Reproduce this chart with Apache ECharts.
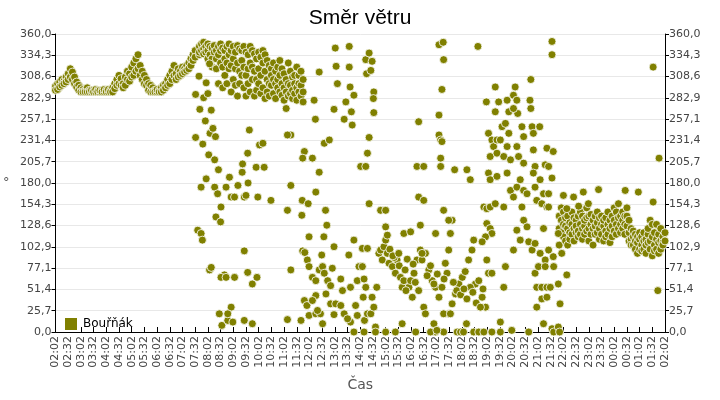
<!DOCTYPE html>
<html>
<head>
<meta charset="utf-8">
<script src="https://cdn.jsdelivr.net/npm/echarts@6/dist/echarts.min.js"></script>
<style>html,body{margin:0;padding:0;background:#fff}#chart{width:720px;height:400px}</style>
</head>
<body>
<div id="chart"></div>
<script>
// minutes after 02:02 -> list of wind directions (deg)
var earlyTimes = [0,5,10,15,20,25,30,35,40,45,50,55,60,65,70,75,80,85,90,95,100,105,110,115,120,125,130,135,140,145,150,155,160,165,170,175,180,185,190,195,200,205,210,215,220,225,230,235,240,245,250,255,260,265,270,275,280,285,290,295,300,305,310,315,320,325,330];
var earlyValues = [[297,292],[300,293],[302,296],[305,298],[303,300],[308,302],[312,305],[318,308],[314,305],[308,300],[302,296],[298,292],[295,290],[293,290],[292,290],[295,290],[292,290],[290,292],[292,290],[290,293],[292,290],[290,292],[292,290],[290,293],[292,290],[290,293],[292,290],[295,290],[300,294],[305,298],[310,300],[306,298],[300,295],[308,298],[315,305],[312,303],[320,308],[325,310],[330,315],[335,318],[322,310],[315,305],[310,300],[305,298],[300,292],[298,290],[295,290],[292,290],[290,293],[292,290],[295,290],[298,292],[300,295],[305,298],[310,300],[315,305],[322,310],[312,305],[318,308],[315,310],[320,312],[318,314],[322,316],[325,318],[330,322],[335,328],[340,332]];

var morningTimes = [340,345,350,355,360,365,370,375,380,385,390,395,400,405,410,415,420,425,430,435,440,445,450,455,460,465,470,475,480,485,490,495,500,505,510,515,520,525,530,535,540,545,550,555,560,565,570,575,580,585];
var morningValues = [[335,345,338],[348,340],[342,336,350],[345,338],[348,340,330],[345,335],[343,330,320],[346,338],[340,330,318],[345,335,300],[348,340,325],[343,320,295],[340,330,310],[345,325,300],[348,335,318],[340,322,290],[345,330,305],[338,318,298],[346,325,285],[342,315,300],[340,328,310],[345,320,295],[338,310,285],[335,318,300],[345,325,290],[340,320,305],[336,315,285],[330,305,292],[338,318,300],[332,310,288],[340,325,295],[335,315,282],[328,305,290],[322,300,285],[318,298,310],[325,305,288],[315,300,282],[320,295,305],[328,310,290],[318,300,286],[312,295,280],[305,290,270],[325,300,285],[315,298,288],[308,292,282],[300,288,310],[320,295,280],[310,290,300],[298,285,315],[305,290,278]];

var nightTimes = [1190,1195,1200,1205,1210,1215,1220,1225,1230,1235,1240,1245,1250,1255,1260,1265,1270,1275,1280,1285,1290,1295,1300,1305,1310,1315,1320,1325,1330,1335,1340,1345,1350,1355,1360,1365,1370,1375,1380,1385,1390,1395,1400,1405,1410,1415,1420,1425,1430,1435,1440];
var nightValues = [[140,125,105],[135,150,120],[145,130,115],[128,138,110],[125,140,105],[120,132,112],[130,118,145],[125,138,110],[135,120,128],[122,140,115],[130,118,145],[140,125,112],[128,135,118],[138,122,150],[125,140,110],[130,118,142],[135,125,105],[128,140,118],[132,120,145],[125,138,112],[130,118,140],[128,135,110],[122,138,115],[130,145,118],[135,125,108],[140,128,115],[135,150,122],[145,130,118],[138,125,155],[140,130,120],[135,145,125],[130,140,118],[128,140,150],[135,120,110],[125,112,105],[115,105,122],[110,100,118],[108,115,95],[112,100,120],[105,98,115],[110,120,100],[105,95,112],[118,108,125],[135,110,100],[130,92,115],[120,105,98],[112,100,130],[108,118,95],[125,110,100],[115,108,105],[110,120]];

// scattered readings [minute, deg]
var scatterA = [[331,287],[339,309],[341,269],[331,235],[350,283],[354,255],[348,227],[344,175],[356,301],[360,288],[364,324],[368,268],[365,240],[372,246],[378,236],[362,214],[376,208],[356,185],[385,196],[376,175],[383,167],[391,151],[379,139],[390,133],[336,123],[344,119],[347,111],[364,75],[368,78],[399,69],[391,66],[403,66],[423,66],[387,22],[393,8],[407,14],[415,30],[419,12],[407,22],[446,14],[465,10],[446,98],[454,72],[465,58],[476,66],[431,177],[441,193],[446,163],[450,165],[455,180],[454,216],[458,244],[442,203],[411,187],[415,163],[423,163],[403,175],[474,199],[478,163],[482,226],[490,228],[493,199],[509,159],[548,147],[556,238],[548,238],[556,177],[556,75],[548,15],[582,141],[583,159],[588,218],[584,210],[597,155],[607,210],[611,280],[614,257],[615,169],[623,193],[623,314],[635,228],[647,232],[658,269],[661,343],[663,321],[666,300],[694,345],[694,320],[696,296],[686,278],[682,257],[699,266],[701,250],[705,286]];
var scatterB = [[584,98],[589,96],[595,87],[599,79],[607,66],[615,62],[623,75],[631,79],[635,71],[629,93],[634,115],[599,115],[641,129],[638,147],[658,103],[654,77],[643,62],[650,56],[674,64],[678,50],[697,54],[693,93],[705,111],[717,79],[713,62],[588,38],[594,32],[599,20],[615,22],[626,22],[631,10],[639,46],[650,34],[658,21],[662,34],[674,32],[682,22],[697,12],[705,0],[713,20],[709,32],[615,44],[619,26],[607,38],[580,14],[690,16]];
var scatterC = [[721,200],[733,200],[737,216],[741,235],[735,312],[733,329],[741,337],[745,316],[748,327],[752,290],[751,282],[752,265],[741,155],[725,101],[737,101],[725,79],[729,64],[733,54],[727,42],[730,14],[737,22],[745,22],[748,42],[752,30],[756,6],[759,54],[729,0],[764,95],[768,99],[772,87],[776,103],[780,111],[784,95],[788,83],[796,79],[803,71],[807,87],[815,66],[819,54],[823,62],[835,54],[839,62],[843,42],[847,71],[854,87],[862,99],[866,87],[874,95],[882,75],[890,62],[898,54],[906,42],[913,54],[921,83],[929,99],[933,119],[937,135],[925,71],[945,46],[953,58],[961,66],[968,73],[976,87],[984,99],[988,111],[992,58],[980,54],[1000,62],[1008,42],[1016,30],[1023,71],[768,147],[780,147],[780,127],[784,117],[823,119],[839,121],[858,254],[854,200],[870,200],[858,163],[870,159],[862,129],[866,95],[870,30],[874,22],[898,119],[906,347],[916,350],[917,329],[913,293],[906,262],[906,238],[910,232],[913,230],[910,210],[910,200],[917,147],[929,135],[929,22],[937,34],[943,196],[972,196],[980,184],[998,345]];
var scatterD = [[851,0],[898,0],[949,0],[957,0],[988,0],[1000,0],[1012,0],[1031,0],[1051,12],[1051,0],[1078,2],[1118,0],[1153,10],[1173,4],[1177,0],[1188,6],[1191,0],[756,0],[780,0],[803,0],[819,10],[886,0],[894,10],[917,0],[964,0],[971,10],[917,22],[933,22],[901,2]];
var scatterE = [[1012,151],[1019,149],[1027,151],[1039,155],[1019,131],[1027,125],[1031,119],[1016,115],[1008,109],[1019,87],[1031,71],[1018,278],[1039,296],[1047,278],[1039,266],[1055,248],[1063,252],[1071,240],[1067,280],[1071,266],[1086,296],[1082,286],[1090,280],[1092,264],[1082,270],[1102,248],[1106,236],[1123,305],[1121,280],[1123,270],[1126,248],[1129,240],[1144,248],[1023,240],[1031,232],[1035,224],[1043,232],[1051,232],[1027,212],[1043,216],[1059,212],[1067,224],[1075,208],[1090,224],[1094,212],[1106,204],[1129,220],[1133,200],[1129,192],[1145,184],[1023,192],[1027,184],[1043,188],[1059,151],[1067,192],[1075,171],[1082,163],[1090,175],[1098,184],[1106,171],[1114,167],[1133,175],[1137,159],[1149,155],[1153,167],[1161,151],[1102,151],[1106,135],[1114,127],[1090,123],[1098,111],[1118,109],[1126,99],[1133,107],[1145,95],[1157,87],[1165,99],[1176,91],[1165,151],[1153,125],[1157,202],[1165,200],[1173,186],[1161,222],[1176,218],[1165,167],[1173,351],[1173,335],[1063,79],[1059,54],[1082,99],[1133,71],[1137,54],[1141,79],[1149,54],[1157,79],[1161,54],[1169,54],[1177,79],[1149,40],[1137,30],[1161,42],[1188,58],[1192,34],[1208,69],[1196,95],[1188,119]];
var scatterF = [[1412,320],[1426,210],[1423,50],[1412,157],[1377,169],[1346,171],[1283,172],[1247,169],[1259,155],[1224,163],[1200,165],[1236,152],[1208,149]];
var scatterG = [[800,90],[812,80],[826,75],[831,88],[850,60],[858,50],[878,68],[886,80],[894,58],[902,70],[918,64],[940,60],[948,50],[957,45],[965,52],[972,40],[986,48],[994,35],[1004,30],[1010,52],[790,100],[797,92],[811,95],[828,50],[845,82]];

function expand(times, values) {
  var out = [];
  times.forEach(function (t, i) {
    values[i].forEach(function (v) { out.push([t, v]); });
  });
  return out;
}

var points = [].concat(
  expand(earlyTimes, earlyValues),
  expand(morningTimes, morningValues),
  expand(nightTimes, nightValues),
  scatterA, scatterB, scatterC, scatterD, scatterE, scatterF, scatterG
);

function timeLabel(m) {
  var tot = (2 * 60 + 2 + m) % 1440;
  var h = Math.floor(tot / 60), mm = tot % 60;
  return (h < 10 ? '0' : '') + h + ':' + (mm < 10 ? '0' : '') + mm;
}
function degLabel(v) { return v.toFixed(1).replace('.', ','); }

var chart = echarts.init(document.getElementById('chart'));
var yAxisBase = {
  type: 'value', min: 0, max: 360, interval: 360 / 14,
  axisLine: { show: true, lineStyle: { color: '#000' } },
  axisTick: { show: true, length: 4, lineStyle: { color: '#000' } },
  axisLabel: { formatter: degLabel, color: '#444', fontSize: 11, fontFamily: 'DejaVu Sans', margin: 4 },
  splitLine: { lineStyle: { color: '#e8e8e8' } }
};
chart.setOption({
  animation: false,
  textStyle: { fontFamily: 'DejaVu Sans' },
  title: { text: 'Směr větru', left: 'center', top: 3, textStyle: { fontSize: 21, fontWeight: 'normal', color: '#000', fontFamily: 'Liberation Sans' } },
  legend: {
    left: 58, top: 311, itemWidth: 14, itemHeight: 14, itemGap: 6, icon: 'rect',
    textStyle: { fontSize: 12, color: '#000' },
    data: ['Bouřňák']
  },
  grid: { left: 54, right: 55, top: 34, bottom: 68 },
  xAxis: {
    type: 'value', min: 0, max: 1440, interval: 30,
    name: 'Čas', nameLocation: 'middle', nameGap: 46,
    nameTextStyle: { fontSize: 14, color: '#555' },
    axisLine: { lineStyle: { color: '#000' } },
    axisTick: { inside: true, length: 5, lineStyle: { color: '#000' } },
    axisLabel: { rotate: 90, formatter: timeLabel, color: '#444', fontSize: 11, margin: 4 },
    splitLine: { show: false }
  },
  yAxis: [
    Object.assign({}, yAxisBase, { position: 'left', name: '°', nameLocation: 'middle', nameGap: 46, nameRotate: 0, nameTextStyle: { color: '#555', fontSize: 13 } }),
    Object.assign({}, yAxisBase, { position: 'right', splitLine: { show: false } })
  ],
  series: [{
    name: 'Bouřňák', type: 'scatter', symbolSize: 8,
    itemStyle: { color: '#808000', borderColor: '#fff', borderWidth: 0.8, opacity: 1 },
    data: points
  }]
});
</script>
</body>
</html>
